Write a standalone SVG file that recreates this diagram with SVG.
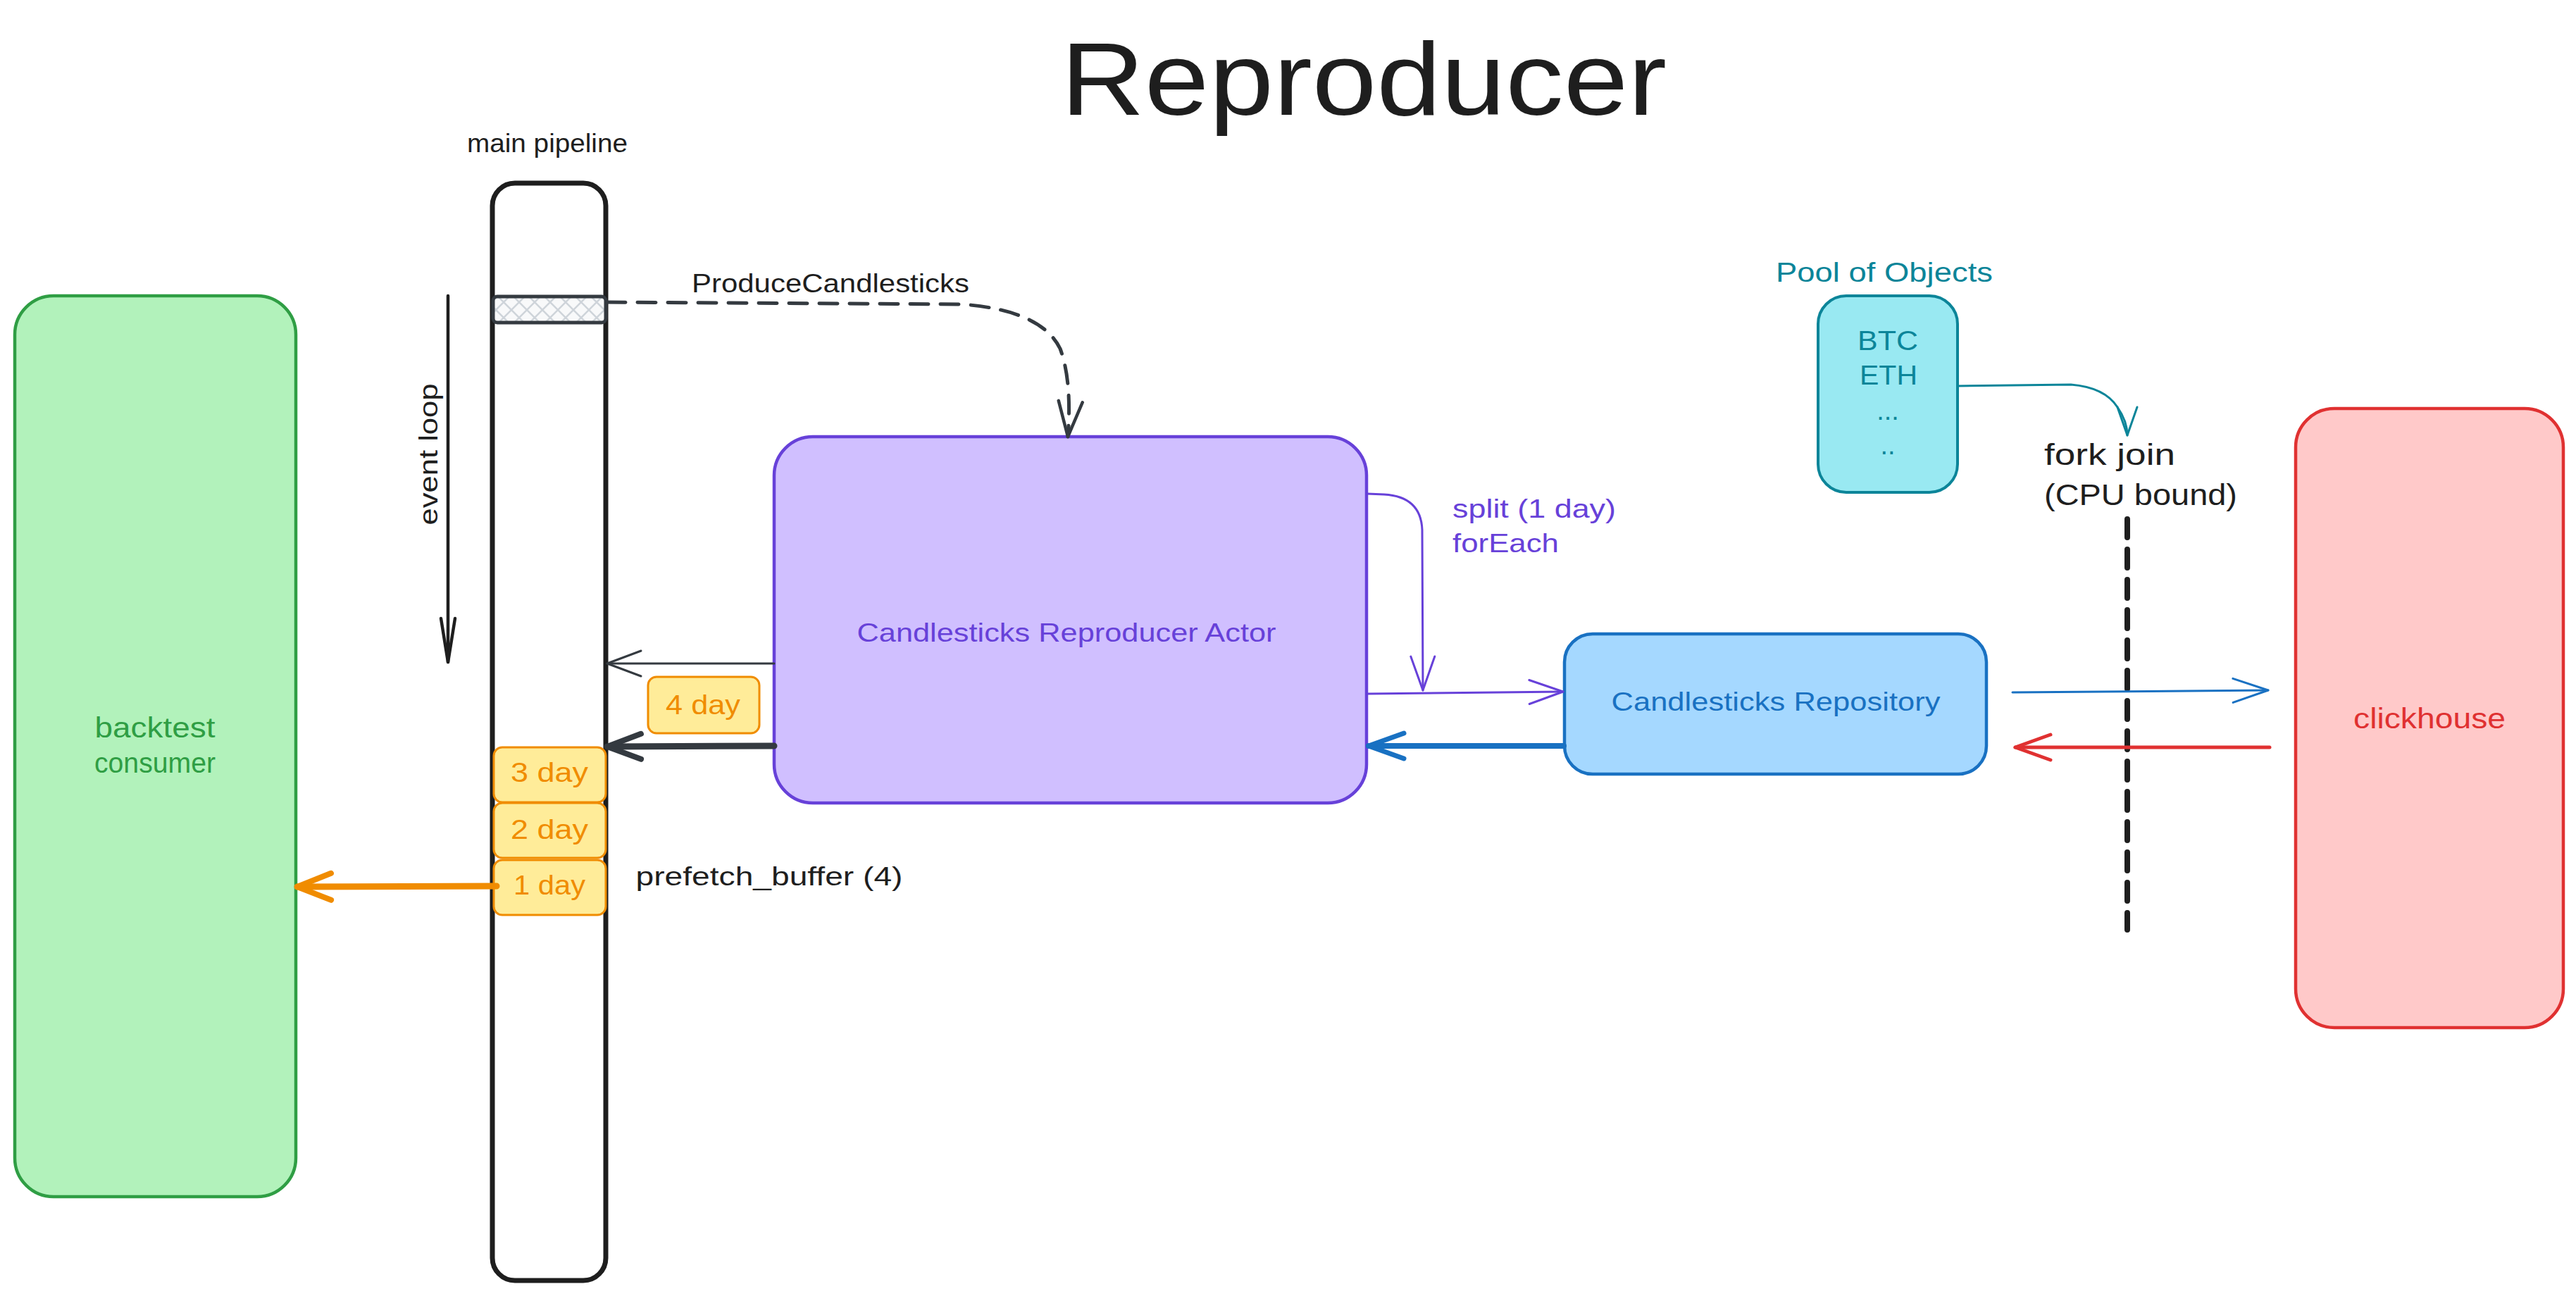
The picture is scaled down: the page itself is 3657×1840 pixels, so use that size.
<svg xmlns="http://www.w3.org/2000/svg" width="3657" height="1840" viewBox="0 0 3657 1840">
<style>
text{font-family:"Liberation Sans","DejaVu Sans",sans-serif;}
.lbl{font-size:36px;fill:#1e1e1e;}
.mid{text-anchor:middle;}
.box{stroke-width:4.5;}
.day{fill:#ffec99;stroke:#f08c00;stroke-width:3;}
.dayt{font-size:38px;fill:#f08c00;text-anchor:middle;}
.c{fill:none;stroke-linecap:round;stroke-linejoin:round;}
</style>
<defs>
<pattern id="hatch" patternUnits="userSpaceOnUse" width="22" height="22">
<rect width="22" height="22" fill="#f8f9fa"/>
<path d="M0,0 L22,22 M22,0 L0,22" stroke="#ced4da" stroke-width="2.5"/>
</pattern>
<marker id="aDark" markerUnits="userSpaceOnUse" viewBox="-60 -30 70 60" refX="0" refY="0" markerWidth="70" markerHeight="60" orient="auto" overflow="visible"><path d="M-48,-18 L0,0 L-48,18" fill="none" stroke="#343a40" stroke-width="3" stroke-linecap="round" stroke-linejoin="round"/></marker>
<marker id="aDarkB" markerUnits="userSpaceOnUse" viewBox="-60 -30 70 60" refX="0" refY="0" markerWidth="70" markerHeight="60" orient="auto" overflow="visible"><path d="M-48,-18 L0,0 L-48,18" fill="none" stroke="#343a40" stroke-width="8" stroke-linecap="round" stroke-linejoin="round"/></marker>
<marker id="aDash" markerUnits="userSpaceOnUse" viewBox="-60 -30 70 60" refX="0" refY="0" markerWidth="70" markerHeight="60" orient="auto" overflow="visible"><path d="M-50,-17 L0,0 L-50,17" fill="none" stroke="#343a40" stroke-width="4.5" stroke-linecap="round" stroke-linejoin="round"/></marker>
<marker id="aBlack" markerUnits="userSpaceOnUse" viewBox="-70 -20 80 40" refX="0" refY="0" markerWidth="80" markerHeight="40" orient="auto" overflow="visible"><path d="M-62,-10 L0,0 L-62,10" fill="none" stroke="#1e1e1e" stroke-width="4.5" stroke-linecap="round" stroke-linejoin="round"/></marker>
<marker id="aOrange" markerUnits="userSpaceOnUse" viewBox="-60 -30 70 60" refX="0" refY="0" markerWidth="70" markerHeight="60" orient="auto" overflow="visible"><path d="M-48,-19 L0,0 L-48,19" fill="none" stroke="#f08c00" stroke-width="8" stroke-linecap="round" stroke-linejoin="round"/></marker>
<marker id="aPurple" markerUnits="userSpaceOnUse" viewBox="-60 -30 70 60" refX="0" refY="0" markerWidth="70" markerHeight="60" orient="auto" overflow="visible"><path d="M-48,-17 L0,0 L-48,17" fill="none" stroke="#6741d9" stroke-width="3" stroke-linecap="round" stroke-linejoin="round"/></marker>
<marker id="aBlueB" markerUnits="userSpaceOnUse" viewBox="-60 -30 70 60" refX="0" refY="0" markerWidth="70" markerHeight="60" orient="auto" overflow="visible"><path d="M-50,-18 L0,0 L-50,18" fill="none" stroke="#1971c2" stroke-width="7" stroke-linecap="round" stroke-linejoin="round"/></marker>
<marker id="aBlue" markerUnits="userSpaceOnUse" viewBox="-60 -30 70 60" refX="0" refY="0" markerWidth="70" markerHeight="60" orient="auto" overflow="visible"><path d="M-50,-17 L0,0 L-50,17" fill="none" stroke="#1971c2" stroke-width="3" stroke-linecap="round" stroke-linejoin="round"/></marker>
<marker id="aRed" markerUnits="userSpaceOnUse" viewBox="-60 -30 70 60" refX="0" refY="0" markerWidth="70" markerHeight="60" orient="auto" overflow="visible"><path d="M-50,-18 L0,0 L-50,18" fill="none" stroke="#e03131" stroke-width="5" stroke-linecap="round" stroke-linejoin="round"/></marker>
<marker id="aTeal" markerUnits="userSpaceOnUse" viewBox="-60 -30 70 60" refX="0" refY="0" markerWidth="70" markerHeight="60" orient="auto" overflow="visible"><path d="M-40,-14 L0,0 L-40,14" fill="none" stroke="#0c8599" stroke-width="3" stroke-linecap="round" stroke-linejoin="round"/></marker>
</defs>
<rect width="3657" height="1840" fill="#ffffff"/>

<g id="title">
<text x="1936" y="163" class="mid" font-size="147" fill="#1e1e1e" textLength="860" lengthAdjust="spacingAndGlyphs">Reproducer</text>
</g>

<g id="backtest-consumer">
<rect x="21" y="420" width="399" height="1279" rx="55" fill="#b2f2bb" stroke="#2f9e44" class="box"/>
<text x="220" y="1047" class="mid" font-size="40" fill="#2f9e44" textLength="171" lengthAdjust="spacingAndGlyphs">backtest</text>
<text x="220" y="1097" class="mid" font-size="40" fill="#2f9e44" textLength="172" lengthAdjust="spacingAndGlyphs">consumer</text>
</g>

<g id="main-pipeline">
<text x="777" y="216" class="lbl mid" textLength="228" lengthAdjust="spacingAndGlyphs">main pipeline</text>
<rect x="699" y="260" width="161" height="1558" rx="32" fill="#ffffff" stroke="#1e1e1e" stroke-width="7"/>
<rect x="700" y="421" width="160" height="37" rx="6" fill="url(#hatch)" stroke="#343a40" stroke-width="5"/>
</g>

<g id="event-loop">
<text transform="translate(621,645) rotate(-90)" x="0" y="0" class="lbl mid" textLength="201" lengthAdjust="spacingAndGlyphs">event loop</text>
</g>

<g id="day-3">
<rect x="701" y="1061" width="159" height="78" rx="12" class="day"/>
<text x="780" y="1110" class="dayt" textLength="110" lengthAdjust="spacingAndGlyphs">3 day</text>
</g>
<g id="day-2">
<rect x="701" y="1140" width="159" height="78" rx="12" class="day"/>
<text x="780" y="1191" class="dayt" textLength="110" lengthAdjust="spacingAndGlyphs">2 day</text>
</g>
<g id="day-1">
<rect x="701" y="1221" width="159" height="78" rx="12" class="day"/>
<text x="780" y="1270" class="dayt" textLength="102" lengthAdjust="spacingAndGlyphs">1 day</text>
</g>
<g id="day-4">
<rect x="920" y="961" width="158" height="80" rx="12" class="day"/>
<text x="998" y="1014" class="dayt" textLength="106" lengthAdjust="spacingAndGlyphs">4 day</text>
</g>

<g id="prefetch-label">
<text x="1092" y="1257" class="lbl mid" textLength="379" lengthAdjust="spacingAndGlyphs">prefetch_buffer (4)</text>
</g>

<g id="reproducer-actor">
<rect x="1099" y="620" width="841" height="520" rx="55" fill="#d0bfff" stroke="#6741d9" class="box"/>
<text x="1514" y="911" class="mid" font-size="36" fill="#6741d9" textLength="595" lengthAdjust="spacingAndGlyphs">Candlesticks Reproducer Actor</text>
</g>

<g id="repository">
<rect x="2221" y="900" width="599" height="199" rx="40" fill="#a5d8ff" stroke="#1971c2" class="box"/>
<text x="2521" y="1009" class="mid" font-size="36" fill="#1971c2" textLength="467" lengthAdjust="spacingAndGlyphs">Candlesticks Repository</text>
</g>

<g id="clickhouse">
<rect x="3259" y="580" width="380" height="879" rx="55" fill="#ffc9c9" stroke="#e03131" class="box"/>
<text x="3449" y="1034" class="mid" font-size="40" fill="#e03131" textLength="216" lengthAdjust="spacingAndGlyphs">clickhouse</text>
</g>

<g id="pool-of-objects">
<text x="2675" y="400" class="mid" font-size="38" fill="#0c8599" textLength="308" lengthAdjust="spacingAndGlyphs">Pool of Objects</text>
<rect x="2581" y="420" width="198" height="279" rx="40" fill="#99e9f2" stroke="#0c8599" stroke-width="4"/>
<text x="2680" y="497" class="mid" font-size="38" fill="#0c8599" textLength="86" lengthAdjust="spacingAndGlyphs">BTC</text>
<text x="2681" y="546" class="mid" font-size="38" fill="#0c8599" textLength="82" lengthAdjust="spacingAndGlyphs">ETH</text>
<text x="2680" y="596" class="mid" font-size="38" fill="#0c8599">...</text>
<text x="2680" y="645" class="mid" font-size="38" fill="#0c8599">..</text>
</g>

<g id="fork-join">
<text x="2902" y="660" font-size="42" fill="#1e1e1e" textLength="186" lengthAdjust="spacingAndGlyphs">fork join</text>
<text x="2902" y="717" font-size="42" fill="#1e1e1e" textLength="274" lengthAdjust="spacingAndGlyphs">(CPU bound)</text>
<line x1="3020" y1="737" x2="3020" y2="1320" stroke="#1e1e1e" stroke-width="8" stroke-dasharray="26 17" stroke-linecap="round"/>
</g>

<g id="connectors">
<path class="c" d="M636,420 L636,940" stroke="#1e1e1e" stroke-width="4.5" marker-end="url(#aBlack)"/>
<path class="c" d="M862,429 L1365,432 Q1478,440 1505,495 Q1522,540 1516,620" stroke="#343a40" stroke-width="5" stroke-dasharray="26 17" marker-end="url(#aDash)"/>
<text x="1179" y="415" class="lbl mid" textLength="394" lengthAdjust="spacingAndGlyphs">ProduceCandlesticks</text>
<path class="c" d="M1099,942 L862,942" stroke="#343a40" stroke-width="3" marker-end="url(#aDark)"/>
<path class="c" d="M1099,1059 L862,1060" stroke="#343a40" stroke-width="9" marker-end="url(#aDarkB)"/>
<path class="c" d="M705,1258 L422,1259" stroke="#f08c00" stroke-width="9" marker-end="url(#aOrange)"/>
<path class="c" d="M1941,701 L1965,702 Q2017,705 2019,752 L2020,980" stroke="#6741d9" stroke-width="3" marker-end="url(#aPurple)"/>
<text x="2062" y="735" font-size="36" fill="#6741d9" textLength="232" lengthAdjust="spacingAndGlyphs">split (1 day)</text>
<text x="2062" y="784" font-size="36" fill="#6741d9" textLength="151" lengthAdjust="spacingAndGlyphs">forEach</text>
<path class="c" d="M1941,985 L2219,982" stroke="#6741d9" stroke-width="3" marker-end="url(#aPurple)"/>
<path class="c" d="M2220,1059 L1943,1059" stroke="#1971c2" stroke-width="8" marker-end="url(#aBlueB)"/>
<path class="c" d="M2857,983 L3220,980" stroke="#1971c2" stroke-width="3" marker-end="url(#aBlue)"/>
<path class="c" d="M3222,1061 L2861,1061" stroke="#e03131" stroke-width="5" marker-end="url(#aRed)"/>
<path class="c" d="M2779,548 L2940,546 Q2988,550 3006,578 Q3020,598 3020,618" stroke="#0c8599" stroke-width="3" marker-end="url(#aTeal)"/>
</g>
</svg>
